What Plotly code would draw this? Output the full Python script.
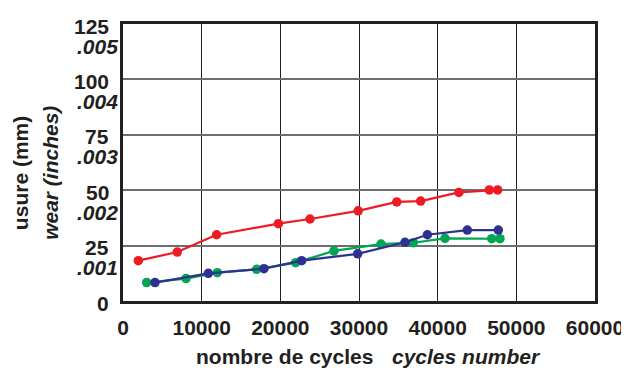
import plotly.graph_objects as go

# Data
red_x = [1950, 6900, 11900, 19750, 23770, 29900, 34800, 37840, 42700, 46560, 47630]
red_y = [18.2, 22.1, 29.9, 34.9, 37.0, 40.7, 44.7, 45.1, 49.0, 50.1, 50.1]

blue_x = [4070, 10850, 17920, 22710, 29830, 35850, 38690, 43770, 47710]
blue_y = [8.3, 12.5, 14.6, 18.2, 21.3, 26.5, 29.9, 32.0, 32.0]

green_x = [3010, 8010, 11990, 16990, 21950, 26820, 32800, 36900, 40930, 46870, 47920]
green_y = [8.3, 10.1, 12.8, 14.3, 17.3, 22.6, 25.7, 26.3, 28.3, 28.1, 28.1]

x_ticks = [0, 10000, 20000, 30000, 40000, 50000, 60000]
y_ticks = [0, 25, 50, 75, 100, 125]
y_tick_mm = ["0", "25", "50", "75", "100", "125"]
y_tick_in = ["", ".001", ".002", ".003", ".004", ".005"]

FONT = "Arial, Liberation Sans, Helvetica, sans-serif"
TXT = "#231f20"
RED = "#ed1c24"
BLUE = "#2e3192"
GREEN = "#00a651"
FS = 21

fig = go.Figure()
for xs, ys, col in [(green_x, green_y, GREEN), (blue_x, blue_y, BLUE), (red_x, red_y, RED)]:
    fig.add_trace(go.Scatter(x=xs, y=ys, mode="lines+markers",
                             line=dict(color=col, width=2.2),
                             marker=dict(color=col, size=9.5),
                             showlegend=False, cliponaxis=False))

annotations = []
for v, mm, inch in zip(y_ticks, y_tick_mm, y_tick_in):
    annotations.append(dict(x=0, xref="paper", y=v, yref="y", text="<b>%s</b>" % mm,
                            showarrow=False, xanchor="right", yanchor="middle",
                            xshift=-12, yshift=-2,
                            font=dict(family=FONT, size=FS, color=TXT)))
    if inch:
        annotations.append(dict(x=0, xref="paper", y=v, yref="y", text="<b><i>%s</i></b>" % inch,
                                showarrow=False, xanchor="right", yanchor="middle",
                                xshift=-3, yshift=-22,
                                font=dict(family=FONT, size=FS, color=TXT)))

annotations.append(dict(x=-0.218, xref="paper", y=0.462, yref="paper", text="<b>usure (mm)</b>",
                        showarrow=False, textangle=-90, xanchor="center", yanchor="middle",
                        font=dict(family=FONT, size=FS, color=TXT)))
annotations.append(dict(x=-0.155, xref="paper", y=0.462, yref="paper", text="<b><i>wear (inches)</i></b>",
                        showarrow=False, textangle=-90, xanchor="center", yanchor="middle",
                        font=dict(family=FONT, size=FS, color=TXT)))
annotations.append(dict(x=0.343, xref="paper", y=-0.2, yref="paper", text="<b>nombre de cycles</b>",
                        showarrow=False, xanchor="center", yanchor="middle",
                        font=dict(family=FONT, size=FS, color=TXT)))
annotations.append(dict(x=0.728, xref="paper", y=-0.2, yref="paper", text="<b><i>cycles number</i></b>",
                        showarrow=False, xanchor="center", yanchor="middle",
                        font=dict(family=FONT, size=FS, color=TXT)))

fig.update_layout(
    width=621, height=364,
    margin=dict(l=115, r=34, t=16, b=71, autoexpand=False),
    paper_bgcolor="white", plot_bgcolor="white",
    annotations=annotations,
    xaxis=dict(range=[0, 60000], tickvals=x_ticks, ticktext=["<b>%d</b>" % t for t in x_ticks],
               tickfont=dict(family=FONT, size=FS, color=TXT), ticklabelstandoff=6,
               showgrid=True, gridcolor=TXT, gridwidth=1.2,
               showline=True, linecolor=TXT, linewidth=2.5, mirror=True,
               zeroline=False, ticks="", automargin=False),
    yaxis=dict(range=[0, 125], tickvals=y_ticks, showticklabels=False,
               showgrid=True, gridcolor="#6d6e71", gridwidth=1.5,
               showline=True, linecolor=TXT, linewidth=2.5, mirror=True,
               zeroline=False, ticks="", automargin=False),
)

fig.write_html("out.html")
